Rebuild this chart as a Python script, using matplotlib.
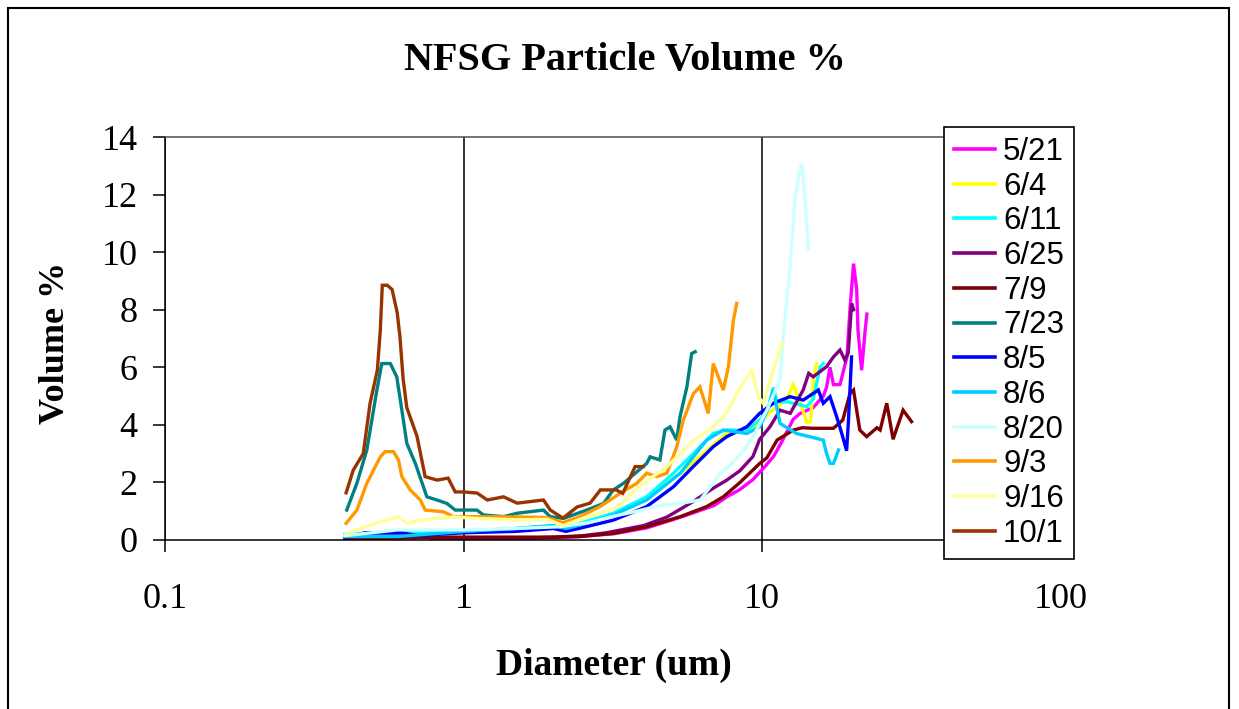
import matplotlib
matplotlib.use("Agg")
import matplotlib.pyplot as plt
from matplotlib.patches import Rectangle
from matplotlib.ticker import FixedLocator, FixedFormatter, NullLocator

# sample dates (legend order = draw order)
dates = ["5/21", "6/4", "6/11", "6/25", "7/9", "7/23", "8/5", "8/6", "8/20", "9/3", "9/16", "10/1"]
colors = ["#FF00FF", "#FFFF00", "#00FFFF", "#800080", "#800000", "#008080",
          "#0000FF", "#00CCFF", "#CCFFFF", "#FF9900", "#FFFF99", "#993300"]

# diameter (um) and volume %, one pair per date
d_0521 = [0.40, 0.47, 0.62, 0.80, 1.0, 1.5, 2.0, 2.45, 3.2, 4.1, 5.0, 5.9, 6.9, 7.6, 8.4, 9.3, 10.3, 10.9,
          11.6, 12.7, 13.4, 14.8, 16.0, 16.4, 16.85, 17.3, 18.2, 19.2, 19.65, 20.2, 20.7, 20.9, 21.5, 22.1, 22.4]
v_0521 = [0.05, 0.25, 0.25, 0.05, 0.05, 0.05, 0.08, 0.12, 0.22, 0.42, 0.7, 0.95, 1.2, 1.5, 1.75, 2.1, 2.6, 2.9,
          3.4, 4.2, 4.4, 4.6, 5.0, 5.3, 6.0, 5.4, 5.4, 6.36, 8.0, 9.6, 8.7, 7.3, 5.9, 7.3, 7.85]

d_0604 = [0.40, 0.55, 0.75, 1.0, 1.5, 2.0, 2.2, 2.6, 3.2, 4.1, 5.3, 6.5, 7.6, 8.4, 9.3, 10.0, 10.8, 11.5,
          12.07, 12.7, 13.35, 14.09, 14.5, 14.82, 15.2]
v_0604 = [0.1, 0.3, 0.3, 0.3, 0.4, 0.5, 0.4, 0.6, 0.9, 1.5, 2.3, 3.1, 3.7, 3.8, 3.9, 4.2, 4.5, 4.7,
          4.9, 5.4, 4.8, 4.1, 4.1, 5.6, 6.13]

d_0611 = [0.40, 0.6, 1.0, 1.5, 2.0, 2.2, 2.45, 3.17, 4.1, 5.04, 5.87, 6.85, 7.6, 8.87, 9.82, 10.5, 10.88,
          11.2, 12.07, 13.35, 14.09, 14.82, 15.6, 16.0]
v_0611 = [0.2, 0.25, 0.3, 0.4, 0.5, 0.4, 0.58, 0.93, 1.5, 2.32, 3.0, 3.7, 3.82, 3.82, 4.17, 4.6, 5.3,
          4.8, 4.8, 4.7, 4.63, 4.9, 6.0, 6.13]

d_0625 = [0.40, 0.47, 0.62, 0.8, 1.0, 1.5, 2.0, 2.5, 3.0, 4.0, 4.8, 5.9, 6.85, 7.6, 8.4, 9.3, 9.8, 10.6,
          11.46, 12.4, 13.7, 14.3, 14.8, 16.4, 17.3, 18.2, 18.9, 19.4, 19.9, 20.2]
v_0625 = [0.05, 0.25, 0.25, 0.05, 0.05, 0.05, 0.1, 0.15, 0.25, 0.5, 0.8, 1.35, 1.8, 2.08, 2.4, 2.9, 3.5, 3.93,
          4.51, 4.4, 5.21, 5.79, 5.67, 6.02, 6.36, 6.6, 6.25, 6.5, 8.22, 8.0]

d_0709 = [0.40, 0.87, 1.5, 2.0, 2.45, 3.17, 4.1, 5.31, 6.51, 7.4, 8.42, 9.8, 10.35, 11.2, 12.7, 13.6, 14.8,
          17.3, 18.6, 19.65, 20.2, 21.2, 22.35, 24.2, 24.8, 26.1, 27.4, 29.6, 31.6]
v_0709 = [0.03, 0.1, 0.1, 0.1, 0.12, 0.23, 0.46, 0.81, 1.16, 1.5, 2.0, 2.66, 2.85, 3.47, 3.82, 3.9, 3.88,
          3.88, 4.17, 5.09, 5.21, 3.82, 3.59, 3.9, 3.82, 4.75, 3.5, 4.51, 4.11]

d_0723 = [0.406, 0.439, 0.474, 0.512, 0.532, 0.568, 0.597, 0.621, 0.645, 0.689, 0.753, 0.813, 0.879, 0.937,
          1.107, 1.165, 1.36, 1.51, 1.85, 1.95, 2.16, 2.58, 2.94, 3.17, 3.43, 4.10, 4.21, 4.54, 4.72, 4.91,
          5.17, 5.30, 5.59, 5.80, 5.96]
v_0723 = [1.04, 1.97, 3.13, 5.2, 6.13, 6.13, 5.67, 4.51, 3.36, 2.66, 1.5, 1.39, 1.27, 1.04,
          1.04, 0.87, 0.81, 0.93, 1.04, 0.81, 0.75, 1.04, 1.27, 1.74, 1.97, 2.66, 2.89, 2.78, 3.82, 3.93,
          3.47, 4.28, 5.32, 6.48, 6.54]

d_0805 = [0.40, 0.47, 0.62, 0.68, 1.0, 1.5, 2.0, 2.2, 2.45, 3.17, 4.10, 5.04, 5.87, 6.85, 7.60, 8.87, 9.8,
          10.88, 12.38, 13.7, 14.8, 15.4, 16.0, 16.85, 17.74, 18.45, 19.15, 19.4, 19.9]
v_0805 = [0.1, 0.25, 0.25, 0.15, 0.25, 0.3, 0.4, 0.3, 0.41, 0.69, 1.16, 1.85, 2.55, 3.24, 3.59, 3.93, 4.4,
          4.75, 4.98, 4.86, 5.09, 5.21, 4.75, 4.98, 4.28, 3.7, 3.1, 4.05, 6.36]

d_0806 = [0.40, 0.6, 1.0, 1.5, 2.0, 2.2, 2.45, 3.17, 4.10, 5.31, 6.51, 7.40, 8.87, 9.8, 10.4, 10.88,
          11.46, 13.0, 14.4, 16.0, 16.4, 16.85, 17.3, 18.0]
v_0806 = [0.12, 0.12, 0.3, 0.4, 0.5, 0.4, 0.52, 0.87, 1.39, 2.32, 3.47, 3.82, 3.7, 3.93, 4.5, 5.21,
          4.05, 3.7, 3.59, 3.47, 3.01, 2.66, 2.66, 3.13]

d_0820 = [0.40, 0.6, 1.0, 1.5, 2.1, 2.6, 3.1, 3.8, 4.55, 5.5, 6.2, 7.21, 7.8, 8.64, 9.3, 10.35, 11.46,
          11.76, 12.38, 12.86, 13.2, 13.55, 13.9, 14.26]
v_0820 = [0.15, 0.35, 0.35, 0.4, 0.46, 0.6, 0.8, 1.0, 1.2, 1.3, 1.39, 2.3, 2.6, 3.1, 3.58, 4.51, 5.56,
          7.06, 9.49, 11.8, 12.6, 13.08, 11.8, 10.13]

d_0903 = [0.404, 0.439, 0.474, 0.526, 0.546, 0.582, 0.605, 0.621, 0.662, 0.716, 0.743, 0.856, 0.924, 1.078,
          1.5, 1.9, 2.15, 2.45, 2.86, 3.34, 3.80, 4.10, 4.43, 4.79, 5.17, 5.44, 5.88, 6.18, 6.59, 6.85,
          7.40, 7.70, 8.00, 8.21]
v_0903 = [0.58, 1.04, 1.97, 2.89, 3.07, 3.07, 2.78, 2.2, 1.74, 1.39, 1.04, 0.98, 0.81, 0.81,
          0.8, 0.78, 0.6, 0.81, 1.16, 1.62, 1.97, 2.32, 2.2, 2.32, 3.24, 4.17, 5.09, 5.32, 4.4, 6.13,
          5.21, 6.02, 7.64, 8.22]

d_0916 = [0.404, 0.45, 0.50, 0.53, 0.605, 0.645, 0.72, 0.80, 0.93, 1.1, 1.5, 1.9, 2.15, 2.5, 3.0, 3.3,
          3.85, 4.8, 5.9, 6.85, 7.6, 8.21, 9.22, 9.70, 10.07, 10.8, 11.61]
v_0916 = [0.2, 0.4, 0.55, 0.65, 0.8, 0.58, 0.69, 0.75, 0.8, 0.75, 0.7, 0.72, 0.5, 0.75, 1.0, 1.16,
          1.85, 2.55, 3.47, 3.93, 4.4, 5.09, 5.9, 4.98, 4.75, 5.8, 6.83]

d_1001 = [0.404, 0.427, 0.461, 0.486, 0.514, 0.526, 0.534, 0.555, 0.576, 0.599, 0.612, 0.627, 0.645, 0.662,
          0.698, 0.743, 0.815, 0.887, 0.937, 0.996, 1.11, 1.20, 1.36, 1.51, 1.85, 1.95, 2.15, 2.40, 2.65,
          2.87, 3.24, 3.41, 3.75, 3.99]
v_1001 = [1.64, 2.43, 3.0, 4.75, 5.9, 7.3, 8.85, 8.85, 8.7, 7.9, 7.05, 5.6, 4.6, 4.27,
          3.6, 2.2, 2.08, 2.15, 1.67, 1.67, 1.63, 1.39, 1.5, 1.28, 1.39, 1.04, 0.76, 1.15, 1.28,
          1.74, 1.74, 1.62, 2.55, 2.55]

diams = [d_0521, d_0604, d_0611, d_0625, d_0709, d_0723, d_0805, d_0806, d_0820, d_0903, d_0916, d_1001]
vols = [v_0521, v_0604, v_0611, v_0625, v_0709, v_0723, v_0805, v_0806, v_0820, v_0903, v_0916, v_1001]

x_ticks = [0.1, 1, 10, 100]
x_labels = ["0.1", "1", "10", "100"]
y_ticks = [0, 2, 4, 6, 8, 10, 12, 14]

W, H = 1239, 709
serif = "Liberation Serif"

fig = plt.figure(figsize=(W / 100, H / 100), dpi=100)
ax = fig.add_axes([165 / W, 1 - 540 / H, (1061 - 165) / W, (540 - 137) / H])

for d, v, c, lab in zip(diams, vols, colors, dates):
    ax.plot(d, v, color=c, lw=2.4, label=lab, solid_joinstyle="miter")

ax.set_xscale("log")
ax.set_xlim(0.1, 100)
ax.set_ylim(0, 14)
ax.xaxis.set_major_locator(FixedLocator(x_ticks))
ax.xaxis.set_major_formatter(FixedFormatter(x_labels))
ax.xaxis.set_minor_locator(NullLocator())
ax.set_yticks(y_ticks)
ax.grid(axis="x", which="major", color="black", lw=1.1)

for lbl in ax.get_xticklabels() + ax.get_yticklabels():
    lbl.set_fontfamily(serif)
ax.tick_params(axis="both", direction="out", length=8.6, width=1.1, labelsize=26, color="black")
ax.tick_params(axis="x", pad=22)
ax.tick_params(axis="y", pad=11)

for s in ["left", "bottom"]:
    ax.spines[s].set_color("black")
    ax.spines[s].set_linewidth(1.1)
ax.spines["top"].set_color("#505050")
ax.spines["top"].set_linewidth(1.1)
ax.spines["right"].set_color("#505050")

fig.text(625 / W, 1 - 70 / H, "NFSG Particle Volume %", ha="center", va="baseline",
         fontsize=29, fontweight="bold", family=serif)
fig.text(614 / W, 1 - 675 / H, "Diameter (um)", ha="center", va="baseline",
         fontsize=27, fontweight="bold", family=serif)
fig.text(56 / W, 1 - 343 / H, "Volume %", ha="center", va="center", rotation=90,
         fontsize=26, fontweight="bold", family=serif)

leg = ax.legend(loc="upper left", bbox_to_anchor=(944 / W, 1 - 127 / H), bbox_transform=fig.transFigure,
                frameon=True, fancybox=False, framealpha=1, edgecolor="black", borderaxespad=0,
                prop={"family": "Liberation Sans", "size": 22.5}, handlelength=1.32, handletextpad=0.25,
                labelspacing=0.15, borderpad=0.32)
leg.get_frame().set_linewidth(1.2)
for ln in leg.get_lines():
    ln.set_linewidth(2.6)

# outer chart border
fig.patches.append(Rectangle((8 / W, -0.05), (1229 - 8) / W, 1.05 - 8 / H, transform=fig.transFigure,
                             fill=False, lw=1.5, edgecolor="black", clip_on=False))

fig.savefig("out.png", dpi=100)
